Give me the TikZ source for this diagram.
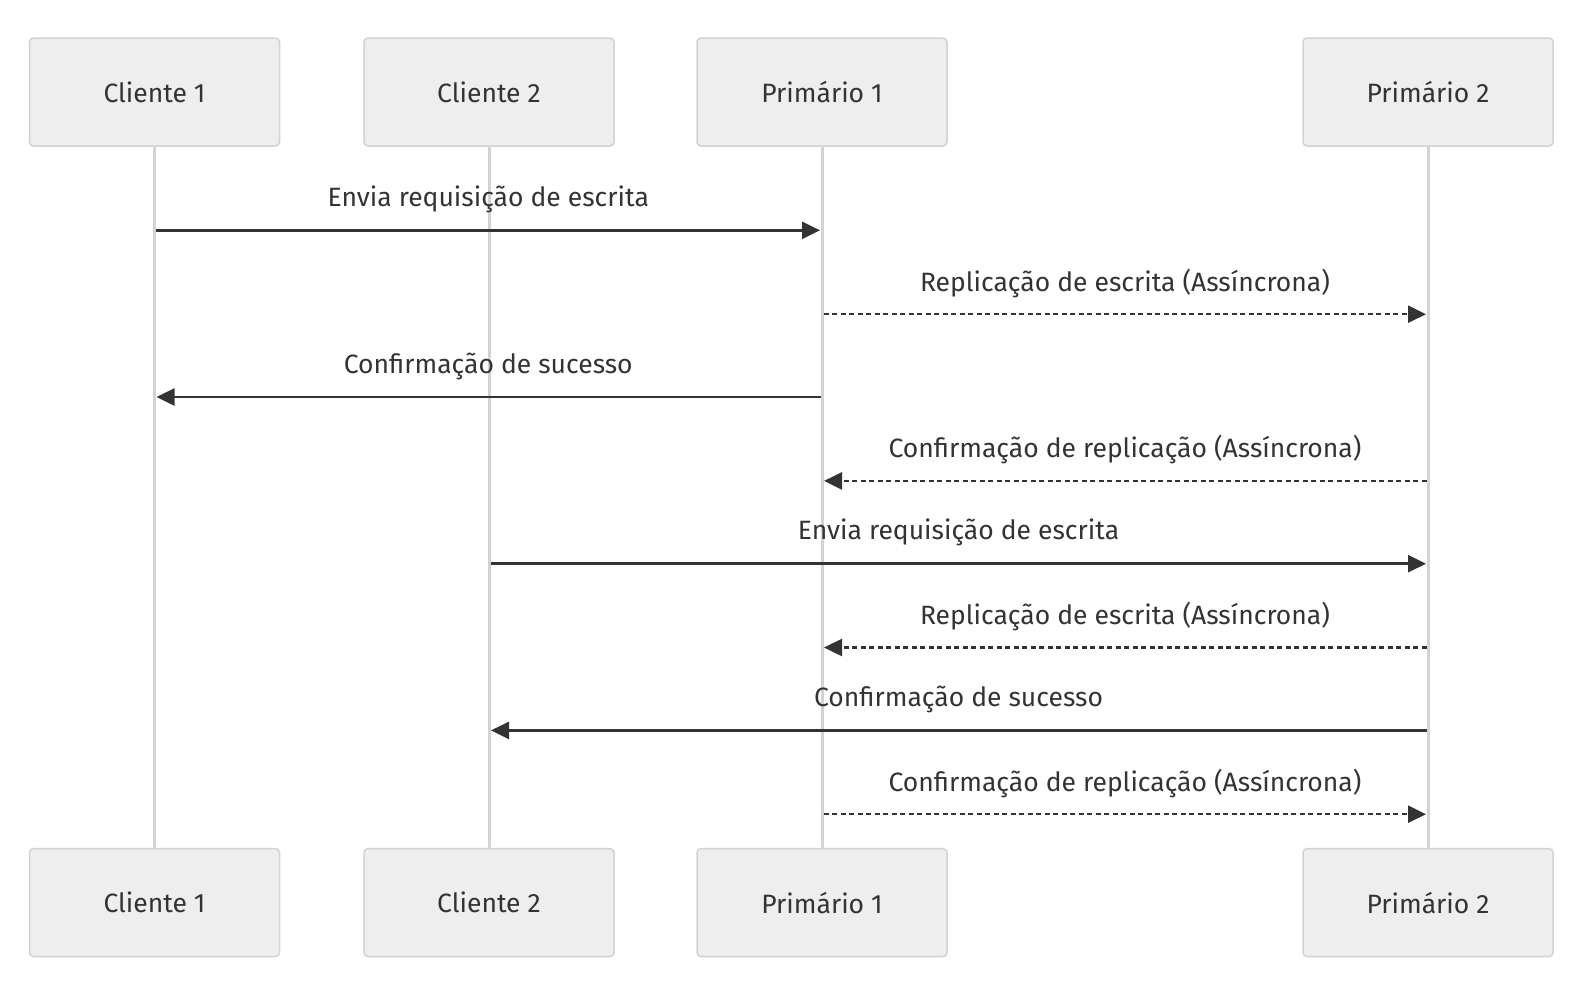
\documentclass[tikz,border=0pt]{standalone}
\usepackage{fontspec}
\setmainfont{Fira Sans}
\usepackage{xcolor}
\usepackage{tikz}
\usetikzlibrary{positioning, arrows.meta}
\definecolor{actfill}{HTML}{EEEEEE}
\definecolor{actdraw}{HTML}{D2D2D2}
\definecolor{lifegray}{HTML}{D3D3D3}
\definecolor{ink}{HTML}{333333}

\begin{document}
\begin{tikzpicture}[x=1pt, y=-1pt,
    actor/.style={draw=actdraw, fill=actfill, line width=1.5pt, rounded corners=4pt,
        minimum width=250pt, minimum height=108pt, text=ink, font=\fontsize{26.5}{32}\selectfont},
    life/.style={draw=lifegray, line width=3pt},
    msg/.style={draw=ink, line width=2.5pt, shorten >=2pt, shorten <=1.5pt,
        -{Triangle[length=18pt, width=17pt]}},
    sync/.style={solid},
    async/.style={dash pattern=on 5pt off 3.5pt},
    lbl/.style={text=ink, font=\fontsize{26.5}{32}\selectfont, inner sep=0pt}]
    \useasboundingbox (0,0) rectangle (1584,994);
    % participants, top and bottom
    \foreach \n/\x/\t in {c1/154.5/Cliente 1, c2/489/Cliente 2, p1/822/Primário 1, p2/1428/Primário 2} {
        \node[actor] (\n-t) at (\x,92) {\t};
        \node[actor] (\n-b) at (\x,902.6) {\t};
        \draw[life] (\n-t) -- (\n-b);
    }
    % messages
    \foreach \a/\b/\y/\s/\t in {
        c1/p1/230.3/sync/Envia requisição de escrita,
        p1/p2/314.2/async/Replicação de escrita (Assíncrona),
        p1/c1/397/sync/Confirmação de sucesso,
        p2/p1/480.9/async/Confirmação de replicação (Assíncrona),
        c2/p2/563.7/sync/Envia requisição de escrita,
        p2/p1/647.5/async/Replicação de escrita (Assíncrona),
        p2/c2/730.4/sync/Confirmação de sucesso,
        p1/p2/814.2/async/Confirmação de replicação (Assíncrona)} {
        \coordinate (row) at (0,\y);
        \draw[msg, \s] (\a-t |- row) -- (\b-t |- row)
            node[lbl, midway, yshift=31pt] {\t};
    }
\end{tikzpicture}
\end{document}
